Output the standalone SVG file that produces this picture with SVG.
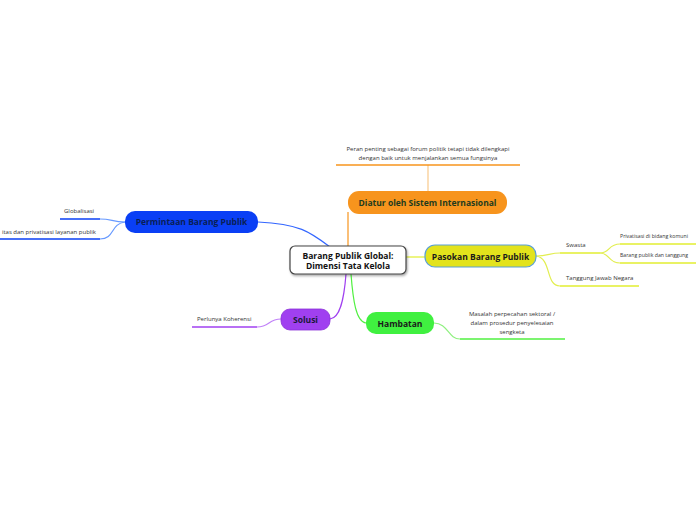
<svg xmlns="http://www.w3.org/2000/svg" width="696" height="520" viewBox="0 0 696 520">
<defs>
<style>
.small{font-family:"Open Sans","Liberation Sans",sans-serif;font-size:6px;fill:#333;}
.node{font-family:"Open Sans","Liberation Sans",sans-serif;font-size:8.5px;font-weight:bold;text-anchor:middle;}
.c{fill:none;stroke-width:1.2;}
.u{fill:none;stroke-width:1.6;}
</style>
<filter id="sh" x="-10%" y="-20%" width="130%" height="150%">
<feDropShadow dx="1" dy="1.5" stdDeviation="1" flood-color="#000" flood-opacity="0.35"/>
</filter>
</defs>
<rect width="696" height="520" fill="#fff"/>
<g id="connectors">
<path class="c" stroke="#3366ff" d="M258,222 C300,224 310,232 330,247"/>
<path class="c" stroke="#6699ff" d="M125,222 C112,222 112,219 100,219"/>
<path class="c" stroke="#6699ff" d="M125,222 C110,224 115,239 100,239"/>
<path class="c" stroke="#f7941d" d="M348,246 L348,212"/>
<path class="c" stroke="#f9c98a" d="M428,191 L428,165"/>
<path class="c" stroke="#e2ee30" d="M406,257 L425,257"/>
<path class="c" stroke="#e2ee50" d="M536,256 C548,256 550,253 560,253"/>
<path class="c" stroke="#e2ee50" d="M536,256 C552,258 545,286 560,286"/>
<path class="c" stroke="#e2ee50" d="M600,253 C610,253 608,244 620,244"/>
<path class="c" stroke="#e2ee50" d="M600,253 C610,253 608,263 620,263"/>
<path class="c" stroke="#a040f0" d="M346,274 C344,300 340,318 330,319"/>
<path class="c" stroke="#c080f8" d="M281,319 C268,319 270,327 257,327"/>
<path class="c" stroke="#50f040" d="M351,274 C353,300 356,322 366,323"/>
<path class="c" stroke="#90f080" d="M434,323 C448,323 448,339 460,339"/>
</g>
<g id="central">
<rect x="290" y="246" width="116" height="28" rx="5" fill="#fff" stroke="#444" stroke-width="1.2" filter="url(#sh)"/>
<text class="node" x="348" y="258.5" font-size="8" fill="#111">Barang Publik Global:</text>
<text class="node" x="348" y="268.5" font-size="8" fill="#111">Dimensi Tata Kelola</text>
</g>
<g id="permintaan">
<rect x="125" y="211" width="133" height="22" rx="10" fill="#0a3ff5"/>
<text class="node" x="191.5" y="225" fill="#0a1f55">Permintaan Barang Publik</text>
</g>
<g id="globalisasi">
<text class="small" x="64" y="213">Globalisasi</text>
<path class="u" stroke="#0a3ff5" d="M60,219 L100,219"/>
</g>
<g id="privatisasi-layanan">
<text class="small" x="96" y="234" text-anchor="end">itas dan privatisasi layanan publik</text>
<path class="u" stroke="#0a3ff5" d="M0,239 L100,239"/>
</g>
<g id="diatur">
<rect x="348" y="191" width="159" height="23" rx="11" fill="#f7941d"/>
<text class="node" x="427.5" y="206" fill="#1e3b1e">Diatur oleh Sistem Internasional</text>
</g>
<g id="peran">
<text class="small" x="428" y="151" text-anchor="middle">Peran penting sebagai forum politik tetapi tidak dilengkapi</text>
<text class="small" x="428" y="160" text-anchor="middle">dengan baik untuk menjalankan semua fungsinya</text>
<path class="u" stroke="#f7941d" d="M336,165 L520,165"/>
</g>
<g id="pasokan">
<rect x="425" y="245" width="111" height="22" rx="10" fill="#e3e31c" stroke="#5a9fd6" stroke-width="1.2"/>
<text class="node" x="480.5" y="259.5" fill="#1a1a1a">Pasokan Barang Publik</text>
</g>
<g id="swasta">
<text class="small" x="566" y="247">Swasta</text>
<path class="u" stroke="#e2ee30" d="M560,253 L600,253"/>
</g>
<g id="privatisasi-komunikasi">
<text class="small" x="620" y="238" font-size="5" textLength="68" lengthAdjust="spacingAndGlyphs">Privatisasi di bidang komuni</text>
<path class="u" stroke="#e2ee30" d="M620,244 L696,244"/>
</g>
<g id="barang-publik-tanggung">
<text class="small" x="620" y="257" font-size="5" textLength="68" lengthAdjust="spacingAndGlyphs">Barang publik dan tanggung</text>
<path class="u" stroke="#e2ee30" d="M620,263 L696,263"/>
</g>
<g id="tanggung-jawab-negara">
<text class="small" x="566" y="280">Tanggung Jawab Negara</text>
<path class="u" stroke="#e2ee30" d="M560,286 L639,286"/>
</g>
<g id="solusi">
<rect x="281" y="309" width="49" height="21" rx="9" fill="#a040f0" stroke="#8a30d8" stroke-width="0.8"/>
<text class="node" x="305.5" y="322.5" fill="#1a1a3a">Solusi</text>
</g>
<g id="koherensi">
<text class="small" x="197" y="321">Perlunya Koherensi</text>
<path class="u" stroke="#a040f0" d="M192,327 L257,327"/>
</g>
<g id="hambatan">
<rect x="366" y="312" width="68" height="22" rx="10" fill="#40f040"/>
<text class="node" x="400" y="326.5" fill="#1a1a1a">Hambatan</text>
</g>
<g id="masalah">
<text class="small" x="512" y="316" text-anchor="middle">Masalah perpecahan sektoral /</text>
<text class="small" x="512" y="325" text-anchor="middle">dalam prosedur penyelesaian</text>
<text class="small" x="512" y="334" text-anchor="middle">sengketa</text>
<path class="u" stroke="#50f040" d="M460,339 L565,339"/>
</g>
</svg>
